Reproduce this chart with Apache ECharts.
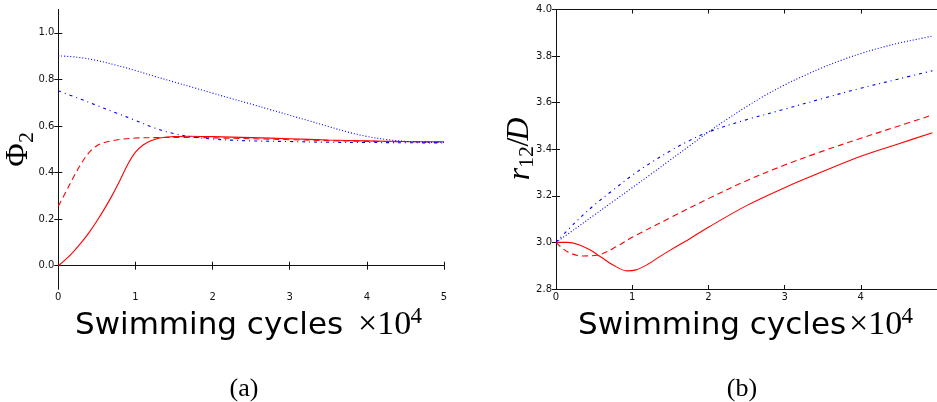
<!DOCTYPE html>
<html>
<head>
<meta charset="utf-8">
<script src="https://cdn.jsdelivr.net/npm/echarts@6/dist/echarts.min.js"></script>
<style>
html,body{margin:0;padding:0;background:#fff;}
#c{width:937px;height:402px;}
</style>
</head>
<body>
<div id="c"></div>
<script>
// ---------- Panel (a): Phi_2 vs swimming cycles (x10^4) ----------
const aSolidX  = [0, 0.1, 0.2, 0.3, 0.4, 0.5, 0.6, 0.7, 0.8, 0.9, 1.0, 1.1, 1.2, 1.3, 1.4, 1.5, 1.7, 2.0, 2.5, 3.0, 3.5, 4.0, 4.5, 5.0];
const aSolidY  = [0, 0.028, 0.062, 0.1, 0.143, 0.192, 0.245, 0.303, 0.367, 0.435, 0.488, 0.518, 0.536, 0.547, 0.552, 0.555, 0.556, 0.554, 0.55, 0.545, 0.54, 0.536, 0.533, 0.532];
const aDashX   = [0, 0.1, 0.2, 0.3, 0.4, 0.5, 0.6, 0.8, 1.0, 1.3, 1.6, 2.0, 3.0, 4.0, 5.0];
const aDashY   = [0.255, 0.318, 0.382, 0.44, 0.487, 0.515, 0.529, 0.542, 0.548, 0.55, 0.551, 0.549, 0.541, 0.534, 0.531];
const aDashDotX = [0, 0.25, 0.5, 0.75, 1.0, 1.25, 1.5, 1.75, 2.0, 2.25, 2.5, 3.0, 3.5, 4.0, 4.5, 5.0];
const aDashDotY = [0.751, 0.72, 0.688, 0.656, 0.624, 0.591, 0.567, 0.552, 0.544, 0.539, 0.536, 0.533, 0.53, 0.529, 0.528, 0.527];
const aDotX    = [0, 0.25, 0.5, 0.75, 1.0, 1.25, 1.5, 1.75, 2.0, 2.25, 2.5, 2.75, 3.0, 3.25, 3.5, 3.75, 4.0, 4.25, 4.5, 4.75, 5.0];
const aDotY    = [0.901, 0.895, 0.881, 0.861, 0.838, 0.813, 0.789, 0.765, 0.741, 0.717, 0.694, 0.67, 0.646, 0.622, 0.598, 0.574, 0.555, 0.542, 0.534, 0.53, 0.529];

// ---------- Panel (b): r12/D vs swimming cycles (x10^4) ----------
const bSolidX  = [0, 0.15, 0.3, 0.45, 0.6, 0.75, 0.93, 1.05, 1.2, 1.35, 1.5, 1.75, 2.0, 2.5, 3.0, 3.5, 4.0, 4.5, 4.94];
const bSolidY  = [3.0, 3.0, 2.99, 2.967, 2.935, 2.903, 2.878, 2.882, 2.905, 2.937, 2.967, 3.015, 3.065, 3.158, 3.235, 3.304, 3.37, 3.424, 3.471];
const bDashX   = [0, 0.15, 0.35, 0.55, 0.8, 1.0, 1.5, 2.0, 2.5, 3.0, 3.5, 4.0, 4.5, 4.94];
const bDashY   = [3.0, 2.96, 2.942, 2.946, 2.983, 3.022, 3.106, 3.188, 3.265, 3.332, 3.392, 3.447, 3.5, 3.547];
const bDashDotX = [0, 0.25, 0.5, 0.75, 1.0, 1.25, 1.5, 1.75, 2.0, 2.5, 3.0, 3.5, 4.0, 4.5, 4.94];
const bDashDotY = [3.0, 3.085, 3.16, 3.225, 3.288, 3.343, 3.393, 3.437, 3.474, 3.527, 3.572, 3.618, 3.662, 3.702, 3.737];
const bDotX    = [0, 0.25, 0.5, 0.75, 1.0, 1.25, 1.5, 1.75, 2.0, 2.25, 2.5, 2.75, 3.0, 3.25, 3.5, 3.75, 4.0, 4.25, 4.5, 4.75, 4.94];
const bDotY    = [3.0, 3.058, 3.117, 3.176, 3.235, 3.294, 3.354, 3.414, 3.474, 3.53, 3.583, 3.632, 3.676, 3.715, 3.751, 3.783, 3.811, 3.835, 3.856, 3.873, 3.886];

// ---------- tick labels ----------
const xTicks  = [0, 1, 2, 3, 4, 5];
const aYTicks = [0.0, 0.2, 0.4, 0.6, 0.8, 1.0];
const bYTicks = [2.8, 3.0, 3.2, 3.4, 3.6, 3.8, 4.0];

const RED = '#ff0000', BLUE = '#0000ff';
const pairs = (xs, ys) => xs.map((x, i) => [x, ys[i]]);

const tickFont = { fontFamily: 'DejaVu Sans', fontSize: 10, color: '#111' };
const lineAx = { show: true, lineStyle: { color: '#111', width: 1 } };
const tickIn = (vals) => ({ show: true, inside: true, length: 4, lineStyle: { color: '#111', width: 1 }, customValues: vals });

function xAxes(gi, showMax) {
  return [
    { type: 'value', gridIndex: gi, position: 'bottom', min: 0, max: 5,
      axisLine: lineAx, axisTick: tickIn(xTicks), splitLine: { show: false },
      axisLabel: Object.assign({ margin: 3, customValues: showMax ? xTicks : xTicks.slice(0, 5),
        formatter: v => String(v) }, tickFont) },
    { type: 'value', gridIndex: gi, position: 'top', min: 0, max: 5,
      axisLine: lineAx, axisTick: tickIn(xTicks), splitLine: { show: false },
      axisLabel: { show: false } }
  ];
}
function yAxes(gi, mn, mx, ticks) {
  return [
    { type: 'value', gridIndex: gi, position: 'left', min: mn, max: mx,
      axisLine: lineAx, axisTick: tickIn(ticks), splitLine: { show: false },
      axisLabel: Object.assign({ margin: 4, customValues: ticks, formatter: v => v.toFixed(1) }, tickFont) },
    { type: 'value', gridIndex: gi, position: 'right', min: mn, max: mx,
      axisLine: lineAx, axisTick: tickIn(ticks), splitLine: { show: false },
      axisLabel: { show: false } }
  ];
}

function ser(xi, yi, data, color, type) {
  return { type: 'line', xAxisIndex: xi, yAxisIndex: yi, data: data, showSymbol: false,
    smooth: 0.35, silent: true, animation: false,
    lineStyle: { color: color, width: 1.1, type: type } };
}

const serif = 'Liberation Serif';
const sans = 'DejaVu Sans';
function txt(x, y, s, font, size, opts) {
  return Object.assign({ type: 'text', x: x, y: y, silent: true,
    style: Object.assign({ text: s, fontFamily: font, fontSize: size, fill: '#000',
      textAlign: 'left', textVerticalAlign: 'middle' }, (opts && opts.style) || {}) },
    (opts && opts.el) || {});
}

const chart = echarts.init(document.getElementById('c'), null, { renderer: 'canvas' });
chart.setOption({
  animation: false,
  backgroundColor: '#fff',
  grid: [
    { left: 58.3, top: 9.5, width: 385.7, height: 279.5 },
    { left: 556, top: 9.5, width: 385.5, height: 279.5 }
  ],
  xAxis: xAxes(0, true).concat(xAxes(1, false)),
  yAxis: yAxes(0, -0.1, 1.1, aYTicks).concat(yAxes(1, 2.8, 4.0, bYTicks)),
  series: [
    ser(0, 0, pairs(aSolidX, aSolidY), RED, 'solid'),
    ser(0, 0, pairs(aDashX, aDashY), RED, [6, 4]),
    ser(0, 0, pairs(aDashDotX, aDashDotY), BLUE, [3, 4, 1, 4]),
    ser(0, 0, pairs(aDotX, aDotY), BLUE, [1, 2]),
    ser(2, 2, pairs(bSolidX, bSolidY), RED, 'solid'),
    ser(2, 2, pairs(bDashX, bDashY), RED, [6, 4]),
    ser(2, 2, pairs(bDashDotX, bDashDotY), BLUE, [3, 4, 1, 4]),
    ser(2, 2, pairs(bDotX, bDotY), BLUE, [1, 2])
  ],
  graphic: [
    // x-axis titles
    txt(75, 325.5, 'Swimming cycles', sans, 31),
    txt(358, 325.5, '\u00d710', serif, 34),
    txt(410.5, 317, '4', serif, 23),
    txt(578, 325.5, 'Swimming cycles', sans, 31),
    txt(849, 325.5, '\u00d710', serif, 34),
    txt(901.5, 317, '4', serif, 23),
    // y-axis titles (rotated)
    txt(19, 155, '\u03a6', serif, 32, { style: { textAlign: 'center' }, el: { rotation: Math.PI / 2 } }),
    txt(27, 137.5, '2', serif, 22, { style: { textAlign: 'center' }, el: { rotation: Math.PI / 2 } }),
    txt(521, 174, 'r', serif, 32, { style: { textAlign: 'center', fontStyle: 'italic' }, el: { rotation: Math.PI / 2 } }),
    txt(527, 157, '12', serif, 22, { style: { textAlign: 'center' }, el: { rotation: Math.PI / 2 } }),
    txt(520, 142, '/', serif, 32, { style: { textAlign: 'center' }, el: { rotation: Math.PI / 2 } }),
    txt(520, 129, 'D', serif, 32, { style: { textAlign: 'center', fontStyle: 'italic' }, el: { rotation: Math.PI / 2 } }),
    // panel captions
    txt(244, 389, '(a)', serif, 26, { style: { textAlign: 'center' } }),
    txt(742, 389, '(b)', serif, 26, { style: { textAlign: 'center' } })
  ]
});
</script>
</body>
</html>
